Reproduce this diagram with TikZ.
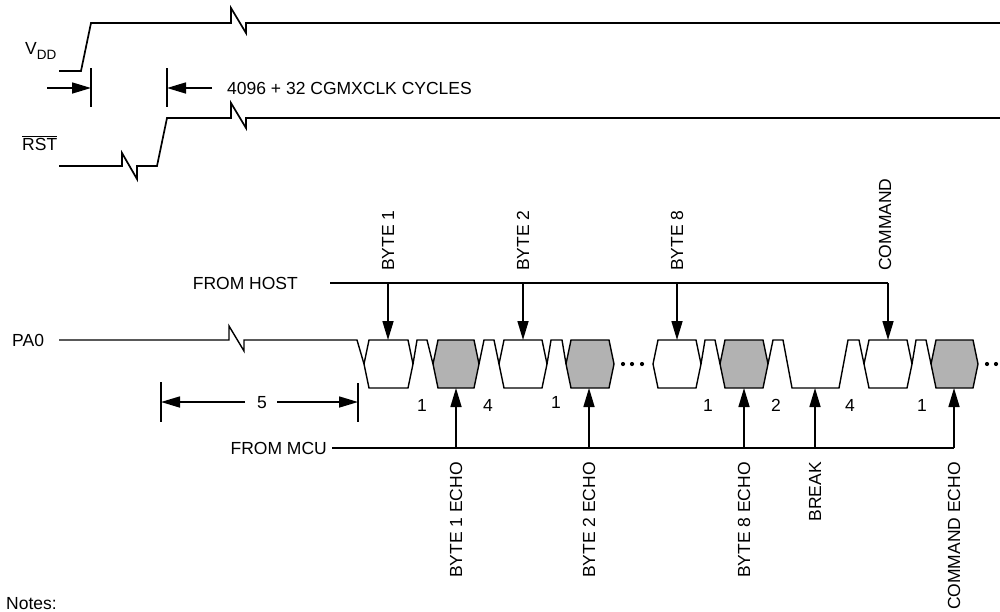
\documentclass[tikz,border=0pt]{standalone}
\usepackage{fontspec}
\setmainfont{Liberation Sans}
\usetikzlibrary{arrows.meta}
\definecolor{echogray}{RGB}{178,178,178}
\newcommand\hexbox[3]{\draw[#3] (#1,364) -- ({#1+5},340) -- ({#2-5},340) -- (#2,364) -- ({#2-5},388) -- ({#1+5},388) -- cycle;}
\begin{document}
\begin{tikzpicture}[x=1pt,y=-1pt,
  sig/.style={line width=1.7pt,line join=miter},
  wav/.style={line width=1.4pt,line join=miter},
  arw/.style={line width=1.6pt,-{Triangle[length=19pt,width=11pt]}},
  dimline/.style={line width=1.6pt},
  txt/.style={font=\fontsize{17.5}{17.5}\selectfont,inner sep=0pt},
  vlbl/.style={txt,rotate=90},
  hostbox/.style={wav,fill=white},
  echobox/.style={wav,fill=echogray},
  dotmark/.style={fill=black}]
\useasboundingbox (0,0) rectangle (1000,611);
% labels
\node[txt,anchor=base west] (vdd) at (25,54) {V\raisebox{-0.55ex}{\fontsize{13.5}{13.5}\selectfont DD}};
\node[txt,anchor=base west] (rst) at (22,150) {$\overline{\mbox{RST}}$};
\node[txt,anchor=base west] (pa0) at (12,346) {PA0};
\node[txt,anchor=base west] (cyc) at (227,94) {4096 + 32 CGMXCLK CYCLES};
\node[txt,anchor=base east] (host) at (298,289) {FROM HOST};
\node[txt,anchor=base east] (mcu) at (327,454) {FROM MCU};
\node[txt,anchor=base west] (notes) at (6,609) {Notes:};
% VDD
\draw[sig] (59,71) -- (81,71) -- (91,23) -- (231,23) -- (231,8) -- (246,33) -- (246,23) -- (1000,23);
% RST
\draw[sig] (59,166) -- (122,166) -- (122,153) -- (137,179) -- (137,166) -- (157,166) -- (167,118) -- (231,118) -- (231,103) -- (246,128) -- (246,118) -- (1000,118);
% timing dimension
\coordinate (t1a) at (91,68); \coordinate (t1b) at (91,107);
\coordinate (t2a) at (167,68); \coordinate (t2b) at (167,107);
\coordinate (a1s) at (47,88); \coordinate (a1e) at (91,88);
\coordinate (a2s) at (212,88); \coordinate (a2e) at (167,88);
\draw[dimline] (t1a) -- (t1b);
\draw[dimline] (t2a) -- (t2b);
\draw[arw] (a1s) -- (a1e);
\draw[arw] (a2s) -- (a2e);
% PA0 waveform
\draw[wav] (59,340) -- (229,340) -- (229,326) -- (244,351) -- (244,340) -- (357,340) -- (364,364);
\hexbox{364}{413}{hostbox}
\draw[wav] (413,364) -- (417,340) -- (427,340) -- (433,364);
\hexbox{433}{479}{echobox}
\draw[wav] (479,364) -- (484,340) -- (494,340) -- (499,364);
\hexbox{499}{547}{hostbox}
\draw[wav] (547,364) -- (551,340) -- (562,340) -- (566,364);
\hexbox{566}{614}{echobox}
\foreach \dx in {623,632,642} \fill[dotmark] (\dx,364) circle (2.1pt);
\hexbox{653}{701}{hostbox}
\draw[wav] (701,364) -- (705,340) -- (715,340) -- (720,364);
\hexbox{720}{768}{echobox}
\draw[wav] (768,364) -- (773,340) -- (783,340) -- (792,388) -- (839,388) -- (848,340) -- (859,340) -- (864,364);
\hexbox{864}{912}{hostbox}
\draw[wav] (912,364) -- (916,340) -- (926,340) -- (931,364);
\hexbox{931}{978}{echobox}
\foreach \dx in {987,996} \fill[dotmark] (\dx,364) circle (2.1pt);
% FROM HOST
\coordinate (h0) at (330,283);
\coordinate (h1) at (388,283); \coordinate (h1b) at (388,340);
\coordinate (h2) at (523,283); \coordinate (h2b) at (523,340);
\coordinate (h8) at (677,283); \coordinate (h8b) at (677,340);
\coordinate (hc) at (888,283); \coordinate (hcb) at (888,340);
\draw[sig] (h0) -- (hc);
\draw[arw] (h1) -- (h1b);
\draw[arw] (h2) -- (h2b);
\draw[arw] (h8) -- (h8b);
\draw[arw] (hc) -- (hcb);
\node[vlbl,anchor=west] (lb1) at (388,271) {BYTE 1};
\node[vlbl,anchor=west] (lb2) at (523,271) {BYTE 2};
\node[vlbl,anchor=west] (lb8) at (677,271) {BYTE 8};
\node[vlbl,anchor=west] (lbc) at (885,271) {COMMAND};
% FROM MCU
\coordinate (m0) at (332,448);
\coordinate (m1) at (456,448); \coordinate (m1b) at (456,388);
\coordinate (m2) at (589,448); \coordinate (m2b) at (589,388);
\coordinate (m8) at (744,448); \coordinate (m8b) at (744,388);
\coordinate (mb) at (815,448); \coordinate (mbb) at (815,388);
\coordinate (mc) at (954,448); \coordinate (mcb) at (954,388);
\draw[sig] (m0) -- (mc);
\draw[arw] (m1) -- (m1b);
\draw[arw] (m2) -- (m2b);
\draw[arw] (m8) -- (m8b);
\draw[arw] (mb) -- (mbb);
\draw[arw] (mc) -- (mcb);
\node[vlbl,anchor=east] (le1) at (456,462) {BYTE 1 ECHO};
\node[vlbl,anchor=east] (le2) at (589,462) {BYTE 2 ECHO};
\node[vlbl,anchor=east] (le8) at (744,462) {BYTE 8 ECHO};
\node[vlbl,anchor=east] (lbk) at (815,462) {BREAK};
\node[vlbl,anchor=east] (lec) at (954,462) {COMMAND ECHO};
% bit counts
\node[txt,anchor=base] (n1) at (422,411) {1};
\node[txt,anchor=base] (n2) at (488,411) {4};
\node[txt,anchor=base] (n3) at (556,408) {1};
\node[txt,anchor=base] (n4) at (708,411) {1};
\node[txt,anchor=base] (n5) at (776,411) {2};
\node[txt,anchor=base] (n6) at (850,411) {4};
\node[txt,anchor=base] (n7) at (922,411) {1};
% 5 dimension
\coordinate (d1a) at (161,382); \coordinate (d1b) at (161,422);
\coordinate (d2a) at (358,383); \coordinate (d2b) at (358,422);
\node[txt,anchor=base] (five) at (262,408) {5};
\coordinate (d5l) at (245,402); \coordinate (d5r) at (277,402);
\coordinate (d5ltip) at (161,402); \coordinate (d5rtip) at (358,402);
\draw[dimline] (d1a) -- (d1b);
\draw[dimline] (d2a) -- (d2b);
\draw[arw] (d5l) -- (d5ltip);
\draw[arw] (d5r) -- (d5rtip);
\end{tikzpicture}
\end{document}
